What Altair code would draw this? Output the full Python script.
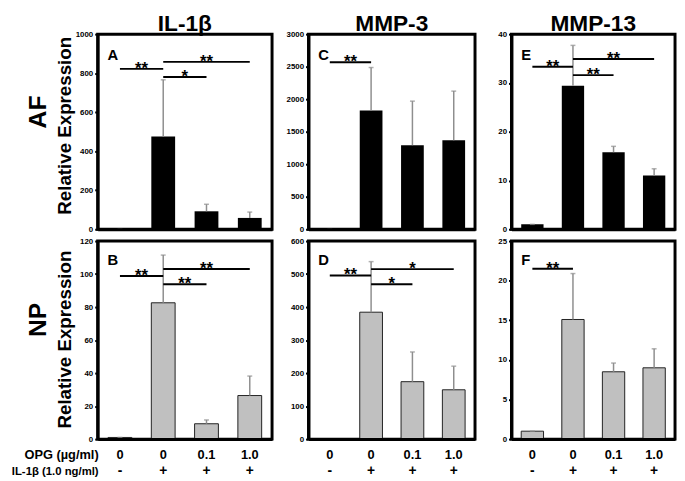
import altair as alt
import pandas as pd

# ---------------- data ----------------
categories = ["g1", "g2", "g3", "g4"]
opg_labels = ["0", "0", "0.1", "1.0"]
il1b_labels = ["-", "+", "+", "+"]

gene_titles = ["IL-1β", "MMP-3", "MMP-13"]
row_labels = ["AF", "NP"]
letters_af = ["A", "C", "E"]
letters_np = ["B", "D", "F"]

# bar heights (mean) and top of error bars (mean + SD)
af_il1b_mean = [1, 475, 92, 58]
af_il1b_upper = [1, 766, 128, 88]
af_mmp3_mean = [1, 1825, 1293, 1370]
af_mmp3_upper = [1, 2487, 1970, 2124]
af_mmp13_mean = [1, 29.4, 15.8, 11.0]
af_mmp13_upper = [1, 37.7, 17.0, 12.4]
np_il1b_mean = [1, 82.6, 9.3, 26.4]
np_il1b_upper = [1, 111.5, 11.6, 38.2]
np_mmp3_mean = [1, 384.5, 174, 149.4]
np_mmp3_upper = [1, 537.7, 264, 221]
np_mmp13_mean = [1, 15.1, 8.5, 9.0]
np_mmp13_upper = [1, 20.9, 9.6, 11.4]

# y-axis maxima and tick steps
af_ymax = [1000, 3000, 40]
af_ystep = [200, 500, 10]
np_ymax = [120, 600, 25]
np_ystep = [20, 100, 5]

# significance brackets: (from, to, y, label)
sig_A = [("g1", "g2", 822, "**"), ("g2", "g3", 780, "*"), ("g2", "g4", 858, "**")]
sig_C = [("g1", "g2", 2567, "**")]
sig_E = [("g1", "g2", 33.3, "**"), ("g2", "g3", 31.6, "**"), ("g2", "g4", 34.9, "**")]
sig_B = [("g1", "g2", 98.8, "**"), ("g2", "g3", 93.8, "**"), ("g2", "g4", 103.1, "**")]
sig_D = [("g1", "g2", 496, "**"), ("g2", "g3", 469, "*"), ("g2", "g4", 515, "*")]
sig_F = [("g1", "g2", 21.5, "**")]

# ---------------- layout ----------------
col_widths = [177, 169, 166]
row_heights = [198, 201]
PAD_INNER = 0.45
PAD_OUTER = 0.24
FONT = "Liberation Sans"


def panel(mean, upper, ymax, ystep, sig, letter, col, row):
    W = col_widths[col]
    H = row_heights[row]
    is_top = row == 0
    step = W / (len(categories) - PAD_INNER + 2 * PAD_OUTER)
    df = pd.DataFrame({"cat": categories, "mean": mean, "upper": upper,
                       "opg": opg_labels, "il": il1b_labels})
    xscale = alt.Scale(domain=categories, paddingInner=PAD_INNER, paddingOuter=PAD_OUTER)
    yscale = alt.Scale(domain=[0, ymax], nice=False, zero=True)
    x_axis = alt.Axis(labels=False, ticks=False, title=None, domain=True,
                      domainColor="black", domainWidth=3, grid=False, zindex=1)
    y_axis = alt.Axis(values=list(range(0, ymax + 1, ystep)), title=None, format="d",
                      labelFontSize=8, labelFontWeight="bold", labelColor="black",
                      labelFont=FONT, labelOverlap=False, tickColor="black",
                      tickSize=3, tickWidth=2, labelPadding=2, domain=True,
                      domainColor="black", domainWidth=3, grid=False, zindex=1)

    # every layer carries the same axis definition so that they merge cleanly
    def X(f, **kw):
        return alt.X(f, scale=xscale, axis=x_axis, **kw)

    def Y(f):
        return alt.Y(f, scale=yscale, axis=y_axis)

    base = alt.Chart(df)
    if is_top:
        bars = base.mark_bar(color="black")
    else:
        bars = base.mark_bar(fill="#c0c0c0", stroke="#222222", strokeWidth=1)
    bars = bars.encode(x=X("cat:N"), y=Y("mean:Q"))
    err = base.mark_rule(color="#8e8e8e", strokeWidth=1.5).encode(
        x=X("cat:N"), y=Y("mean:Q"), y2="upper:Q",
    )
    cap = base.mark_tick(color="#8e8e8e", thickness=1.5, size=5, orient="horizontal").encode(
        x=X("cat:N"), y=Y("upper:Q"),
    )

    sdf = pd.DataFrame(sig, columns=["from", "to", "y", "label"])
    idx = {c: i for i, c in enumerate(categories)}
    sdf["span"] = [idx[t] - idx[f] for f, t in zip(sdf["from"], sdf["to"])]
    sdf["mid"] = [categories[(idx[f] + idx[t]) // 2] for f, t in zip(sdf["from"], sdf["to"])]
    sbase = alt.Chart(sdf)
    srule = sbase.mark_rule(color="black", strokeWidth=2).encode(
        x=X("from:N"), x2="to:N", y=Y("y:Q"),
    )
    stext_odd = sbase.transform_filter("datum.span % 2 == 1").mark_text(
        font=FONT, fontSize=17, fontWeight="bold", dy=5, dx=step * PAD_INNER / 2,
        baseline="alphabetic", align="center"
    ).encode(x=X("mid:N", bandPosition=1), y=Y("y:Q"), text="label:N")
    stext_even = sbase.transform_filter("datum.span % 2 == 0").mark_text(
        font=FONT, fontSize=17, fontWeight="bold", dy=5, baseline="alphabetic", align="center"
    ).encode(x=X("mid:N", bandPosition=0.5), y=Y("y:Q"), text="label:N")

    letter_txt = alt.Chart(pd.DataFrame({"t": [letter]})).mark_text(
        font=FONT, fontSize=15, fontWeight="bold", align="left", baseline="alphabetic"
    ).encode(x=alt.value(10), y=alt.value(26 if is_top else 24), text="t:N")

    layers = [bars, err, cap, srule, stext_odd, stext_even, letter_txt]

    if is_top:
        title_txt = alt.Chart(pd.DataFrame({"t": [gene_titles[col]]})).mark_text(
            font=FONT, fontSize=23, fontWeight="bold", align="center", baseline="alphabetic"
        ).encode(x=alt.value(W / 2), y=alt.value(-3), text="t:N")
        layers.append(title_txt)
    else:
        lab1 = base.mark_text(font=FONT, fontSize=13, fontWeight="bold",
                              baseline="alphabetic", align="center").encode(
            x=X("cat:N"), y=alt.value(H + 20), text="opg:N")
        lab2 = base.mark_text(font=FONT, fontSize=14, fontWeight="bold",
                              baseline="alphabetic", align="center").encode(
            x=X("cat:N"), y=alt.value(H + 36), text="il:N")
        layers += [lab1, lab2]

    if col == 0:
        rl = alt.Chart(pd.DataFrame({"t": [row_labels[row]]})).mark_text(
            font=FONT, fontSize=25, fontWeight="bold", angle=270, align="center",
            baseline="alphabetic"
        ).encode(x=alt.value(-52), y=alt.value(79 if is_top else 80), text="t:N")
        yt = alt.Chart(pd.DataFrame({"t": ["Relative Expression"]})).mark_text(
            font=FONT, fontSize=19, fontWeight="bold", angle=270, align="center",
            baseline="alphabetic"
        ).encode(x=alt.value(-27), y=alt.value(93 if is_top else 100), text="t:N")
        layers += [rl, yt]
        if is_top:
            anchor = alt.Chart(pd.DataFrame({"t": [0]})).mark_rule(
                opacity=0, strokeWidth=1
            ).encode(x=alt.value(-105), x2=alt.value(-104), y=alt.value(-30))
            layers.append(anchor)
        else:
            side1 = alt.Chart(pd.DataFrame({"t": ["OPG (µg/ml)"]})).mark_text(
                font=FONT, fontSize=13, fontWeight="bold", align="right", baseline="alphabetic"
            ).encode(x=alt.value(1), y=alt.value(H + 20), text="t:N")
            side2 = alt.Chart(pd.DataFrame({"t": ["IL-1β (1.0 ng/ml)"]})).mark_text(
                font=FONT, fontSize=11.5, fontWeight="bold", align="right", baseline="alphabetic"
            ).encode(x=alt.value(1), y=alt.value(H + 36), text="t:N")
            layers += [side1, side2]

    return alt.layer(*layers).properties(width=W, height=H)


pA = panel(af_il1b_mean, af_il1b_upper, af_ymax[0], af_ystep[0], sig_A, letters_af[0], 0, 0)
pC = panel(af_mmp3_mean, af_mmp3_upper, af_ymax[1], af_ystep[1], sig_C, letters_af[1], 1, 0)
pE = panel(af_mmp13_mean, af_mmp13_upper, af_ymax[2], af_ystep[2], sig_E, letters_af[2], 2, 0)
pB = panel(np_il1b_mean, np_il1b_upper, np_ymax[0], np_ystep[0], sig_B, letters_np[0], 0, 1)
pD = panel(np_mmp3_mean, np_mmp3_upper, np_ymax[1], np_ystep[1], sig_D, letters_np[1], 1, 1)
pF = panel(np_mmp13_mean, np_mmp13_upper, np_ymax[2], np_ystep[2], sig_F, letters_np[2], 2, 1)

chart = alt.concat(
    pA, pC, pE, pB, pD, pF,
    columns=3,
    spacing={"row": 12, "column": 37},
    bounds="flush",
    align="each",
).properties(
    padding={"left": -16, "top": -9, "right": 0, "bottom": 0}
).configure(
    font=FONT
).configure_view(
    stroke="black", strokeWidth=3
)

chart.save("out.html", embed_options={"renderer": "svg", "actions": False})
